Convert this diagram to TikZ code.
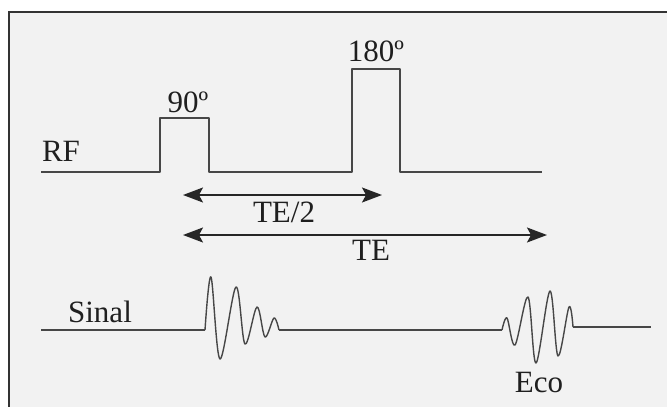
\documentclass[tikz,border=0pt]{standalone}
\usepackage{fontspec}
\setmainfont{Liberation Serif}
\usetikzlibrary{arrows.meta}

\begin{document}
\begin{tikzpicture}[x=1pt,y=-1pt,
    sig/.style={line width=1.4pt,draw=black!72,line join=round},
    lbl/.style={font=\fontsize{31}{33}\selectfont,text=black!88,inner sep=0pt,anchor=base},
    span/.style={line width=1.6pt,draw=black!85,
      {Stealth[length=20pt,width=15pt,inset=4pt]}-{Stealth[length=20pt,width=15pt,inset=4pt]}}]

  \useasboundingbox (0,0) rectangle (667,407);

  % Panel with frame
  \fill[white] (0,0) rectangle (667,407);
  \fill[black!5] (9,12) rectangle (667,407);
  \draw[line width=2pt,black!80] (667,12) -- (9,12) -- (9,407);

  \def\rfy{172}   % RF baseline
  \def\sy{330}    % signal baseline

  % RF line with the two pulses
  \coordinate (rf0) at (41,\rfy);
  \coordinate (p90a) at (160,\rfy);
  \coordinate (p90b) at (209,\rfy);
  \coordinate (p180a) at (352,\rfy);
  \coordinate (p180b) at (400,\rfy);
  \coordinate (rf1) at (542,\rfy);
  \draw[sig] (rf0) -- (p90a) -- ++(0,-54) -| (p90b) -- (p180a) -- ++(0,-103) -| (p180b) -- (rf1);

  % Labels
  \node[lbl] (rf) at (61,161) {RF};
  \node[lbl] (l90) at (188,112) {90º};
  \node[lbl] (l180) at (376,61) {180º};
  \node[lbl] (sinal) at (100,322) {Sinal};
  \node[lbl] (eco) at (539,392) {Eco};

  % Timing arrows
  \coordinate (te2a) at (183,195);
  \coordinate (te2b) at (382,195);
  \coordinate (tea) at (183,235);
  \coordinate (teb) at (547,235);
  \draw[span] (te2a) -- (te2b);
  \draw[span] (tea) -- (teb);
  \node[lbl] (lte2) at (284,222) {TE/2};
  \node[lbl] (lte) at (371,260) {TE};

  % Signal: decay after 90, echo after 180
  \coordinate (s0) at (41,\sy);
  \coordinate (fid0) at (205,\sy);
  \coordinate (fid1) at (279,\sy);
  \coordinate (eco0) at (502,\sy);
  \coordinate (eco1) at (573,327);
  \coordinate (s1) at (651,327);
  \draw[sig] (s0) -- (fid0);
  \draw[sig] plot[smooth,tension=0.55] coordinates {(205,330) (211,277) (220,359) (236,287)
    (245,344) (257,307) (265,337) (274,318) (279,330)};
  \draw[sig] (fid1) -- (eco0);
  \draw[sig] plot[smooth,tension=0.55] coordinates {(502,330) (507,318) (515,345) (528,297)
    (536,363) (550,291) (558,356) (569,307) (573,327)};
  \draw[sig] (eco1) -- (s1);

\end{tikzpicture}
\end{document}
